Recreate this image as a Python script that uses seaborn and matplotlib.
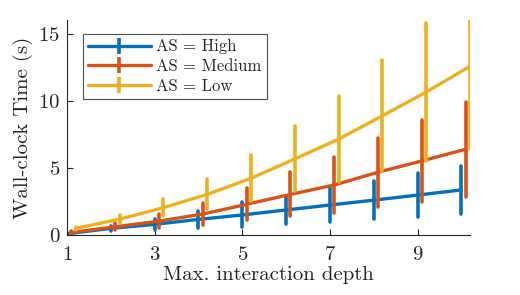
import numpy as np
import pandas as pd
import seaborn as sns
import matplotlib.pyplot as plt
from matplotlib.lines import Line2D

depth = [1, 2, 3, 4, 5, 6, 7, 8, 9, 10]
groups = ['High', 'Medium', 'Low']
x_offset = {'High': 0.0, 'Medium': 0.1, 'Low': 0.2}

mean_high = [0.1, 0.5, 0.8, 1.17, 1.5, 1.87, 2.24, 2.6, 2.98, 3.36]
err_high = [0.05, 0.2, 0.41, 0.62, 0.93, 1.03, 1.26, 1.43, 1.64, 1.8]
mean_medium = [0.2, 0.62, 1.04, 1.57, 2.29, 3.03, 3.73, 4.68, 5.52, 6.39]
err_medium = [0.08, 0.25, 0.5, 0.82, 1.18, 1.63, 2.09, 2.57, 3.02, 3.53]
mean_low = [0.5, 1.19, 2.04, 3.03, 4.23, 5.67, 7.14, 8.88, 10.65, 12.56]
err_low = [0.12, 0.31, 0.65, 1.11, 1.7, 2.42, 3.2, 4.14, 5.1, 6.17]

means = {'High': mean_high, 'Medium': mean_medium, 'Low': mean_low}
errs = {'High': err_high, 'Medium': err_medium, 'Low': err_low}
colors = {'High': '#0072BD', 'Medium': '#D95319', 'Low': '#EDB120'}

# two samples per point (mean - err, mean + err) so seaborn draws the bars
rows = []
for g in groups:
    for d, m, e in zip(depth, means[g], errs[g]):
        rows.append({'depth': d + x_offset[g], 'time': m - e, 'AS': g})
        rows.append({'depth': d + x_offset[g], 'time': m + e, 'AS': g})
df = pd.DataFrame(rows)

sns.set_style('ticks')
plt.rcParams['font.family'] = ['cmr10', 'DejaVu Serif']
plt.rcParams['axes.formatter.use_mathtext'] = True

fig = plt.figure(figsize=(5.2, 2.95), dpi=100)
ax = fig.add_axes([0.129, 0.203, 0.775, 0.729])

sns.lineplot(data=df, x='depth', y='time', hue='AS', hue_order=groups,
             palette=colors, estimator='mean',
             errorbar=lambda v: (v.min(), v.max()), err_style='bars',
             err_kws={'elinewidth': 2.6, 'linewidth': 2.6, 'capsize': 0},
             linewidth=2.4, legend=False, ax=ax)

ax.set_xlim(1, 10.2)
ax.set_ylim(0, 16)
ax.set_xticks([1, 3, 5, 7, 9])
ax.set_yticks([0, 5, 10, 15])
ax.tick_params(direction='in', length=4, width=0.8, colors='#262626',
               labelsize=15)
ax.tick_params(axis='x', pad=8)
ax.tick_params(axis='y', pad=5)
for s in ['left', 'bottom']:
    ax.spines[s].set_linewidth(0.8)
    ax.spines[s].set_color('#262626')
sns.despine(ax=ax)

ax.set_xlabel('Max. interaction depth', fontsize=15, color='#262626', labelpad=1)
ax.set_ylabel('Wall-clock Time (s)', fontsize=15, color='#262626', labelpad=4)

handles = [Line2D([], [], color=colors[g], lw=2.4, marker='|', markersize=12,
                  markeredgewidth=2.6) for g in groups]
labels = ['AS = ' + g for g in groups]
leg = ax.legend(handles, labels, loc='upper left', bbox_to_anchor=(0.039, 0.935),
                borderaxespad=0, fontsize=12, handlelength=3.8,
                handletextpad=0.3, labelspacing=0.28, borderpad=0.3,
                numpoints=1, frameon=True, fancybox=False,
                edgecolor='#262626')
leg.get_frame().set_linewidth(0.8)

fig.savefig('out.png', dpi=100)
